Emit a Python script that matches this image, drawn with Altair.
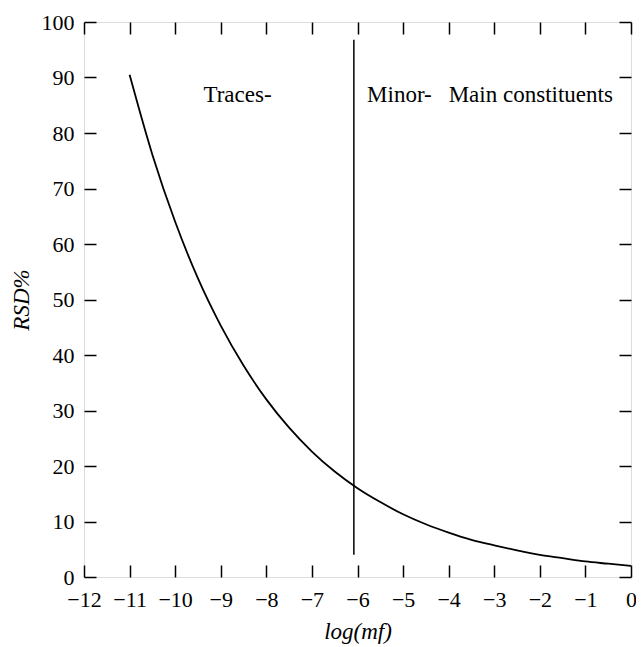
import altair as alt
import pandas as pd

# Curve values
log_mf = [-11, -10.5, -10, -9.5, -9, -8.5, -8, -7.5, -7, -6.5, -6, -5.5,
          -5, -4.5, -4, -3.5, -3, -2.5, -2, -1.5, -1, -0.5, 0]
rsd = [90.5, 76.1, 64.0, 53.8, 45.3, 38.1, 32.0, 26.9, 22.6, 19.0, 16.0, 13.5,
       11.3, 9.5, 8.0, 6.7, 5.7, 4.8, 4.0, 3.4, 2.8, 2.4, 2.0]

# Vertical divider
divider_x = [-6.08]
divider_y = [4.0]
divider_y2 = [96.8]

# Annotations
labels = ["Traces-", "Minor-", "Main constituents"]
label_x = [-9.38, -5.79, -4.0]
label_y = [85.6, 85.6, 85.6]

x_ticks = list(range(-12, 1))
y_ticks = list(range(0, 101, 10))

FONT = "Liberation Serif"
curve = pd.DataFrame({"x": log_mf, "y": rsd})
div = pd.DataFrame({"x": divider_x, "y": divider_y, "y2": divider_y2})
ann = pd.DataFrame({"x": label_x, "y": label_y, "t": labels})

xs = alt.Scale(domain=[-12, 0], nice=False, zero=False)
ys = alt.Scale(domain=[0, 100], nice=False, zero=False)

label_axis_common = dict(domain=False, ticks=False, grid=False,
                         labelFont=FONT, labelFontSize=22, labelColor="black",
                         labelOverlap=False, labelFlush=False,
                         titleFont=FONT, titleFontSize=23, titleFontStyle="italic",
                         titleFontWeight="normal", titleColor="black")

def tick_axis(orient, values):
    return alt.Axis(orient=orient, values=values, labels=False, domain=False,
                    grid=False, ticks=True, tickSize=12, tickColor="black",
                    tickWidth=1.5, offset=-12, title=None)

line = alt.Chart(curve).mark_line(color="black", strokeWidth=1.8,
                                  interpolate="monotone").encode(
    x=alt.X("x:Q", scale=xs,
            axis=alt.Axis(orient="bottom", values=x_ticks, title="log(mf)",
                          labelPadding=12, titlePadding=10, format="d",
                          **label_axis_common)),
    y=alt.Y("y:Q", scale=ys,
            axis=alt.Axis(orient="left", values=y_ticks, title="RSD%",
                          labelPadding=10, titlePadding=8, format="d",
                          **label_axis_common)),
)

rule = alt.Chart(div).mark_rule(color="black", strokeWidth=1.5).encode(
    x=alt.X("x:Q", scale=xs, axis=tick_axis("bottom", x_ticks)),
    y=alt.Y("y:Q", scale=ys, axis=tick_axis("left", y_ticks)),
    y2="y2:Q",
)

text = alt.Chart(ann).mark_text(font=FONT, fontSize=23, color="black",
                                align="left", baseline="alphabetic").encode(
    x=alt.X("x:Q", scale=xs, axis=tick_axis("top", x_ticks)),
    y=alt.Y("y:Q", scale=ys, axis=tick_axis("right", y_ticks)),
    text="t:N",
)

chart = alt.layer(line, rule, text).resolve_scale(
    x="independent", y="independent"
).properties(
    width=547, height=555,
    autosize=alt.AutoSizeParams(type="none"),
    padding={"left": 76, "top": 14, "right": 5, "bottom": 70},
).configure_view(stroke="black", strokeWidth=1.5).configure(background="white")

chart.save("out.html", embed_options={"renderer": "svg", "actions": False})
